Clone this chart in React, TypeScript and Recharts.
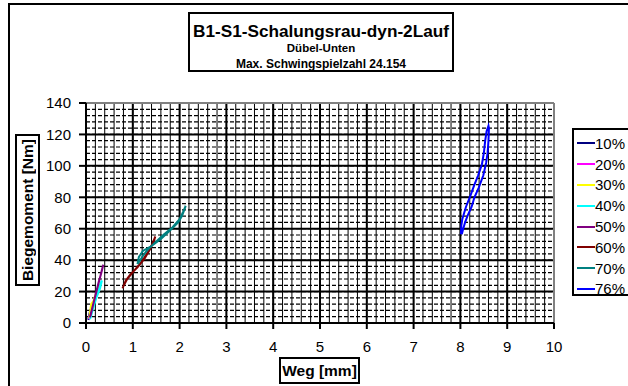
import { LineChart, Line, XAxis, YAxis, CartesianGrid, Legend, ReferenceLine } from "recharts";

type Pt = { x: number; y: number };

// Achsen
const xTicks = [0, 1, 2, 3, 4, 5, 6, 7, 8, 9, 10];
const yTicks = [0, 20, 40, 60, 80, 100, 120, 140];
const xMinor = Array.from({ length: 51 }, (_, i) => i * 0.2);
const yMinor = Array.from({ length: 36 }, (_, i) => i * 4);

const s10: Pt[] = [
  { x: 0.05, y: 2 }, { x: 0.08, y: 5 }, { x: 0.11, y: 9 }, { x: 0.09, y: 8 }, { x: 0.06, y: 4 }, { x: 0.05, y: 2 },
];
const s20: Pt[] = [
  { x: 0.06, y: 2.5 }, { x: 0.1, y: 7 }, { x: 0.14, y: 12 }, { x: 0.16, y: 14 }, { x: 0.13, y: 11 }, { x: 0.09, y: 6 }, { x: 0.06, y: 2.5 },
];
const s30: Pt[] = [
  { x: 0.07, y: 3 }, { x: 0.12, y: 10 }, { x: 0.19, y: 17 }, { x: 0.27, y: 22 }, { x: 0.31, y: 24.5 },
  { x: 0.29, y: 22 }, { x: 0.21, y: 16 }, { x: 0.11, y: 12 }, { x: 0.07, y: 3 },
];
const s40: Pt[] = [
  { x: 0.08, y: 2.5 }, { x: 0.1, y: 3.5 }, { x: 0.15, y: 9 }, { x: 0.22, y: 16 }, { x: 0.3, y: 22 }, { x: 0.34, y: 27 },
  { x: 0.32, y: 26 }, { x: 0.25, y: 19 }, { x: 0.17, y: 12 }, { x: 0.11, y: 6 }, { x: 0.09, y: 3 },
];
const s50: Pt[] = [
  { x: 0.08, y: 3.5 }, { x: 0.12, y: 8 }, { x: 0.17, y: 14 }, { x: 0.22, y: 20 }, { x: 0.27, y: 26 }, { x: 0.32, y: 31 },
  { x: 0.37, y: 37 }, { x: 0.35, y: 35 }, { x: 0.3, y: 29 }, { x: 0.24, y: 22 }, { x: 0.19, y: 16 }, { x: 0.14, y: 10 },
  { x: 0.1, y: 5 }, { x: 0.08, y: 3.5 },
];
const s60: Pt[] = [
  { x: 0.78, y: 22 }, { x: 0.85, y: 27 }, { x: 0.95, y: 31 }, { x: 1.1, y: 35.5 }, { x: 1.25, y: 41 }, { x: 1.38, y: 47.5 },
  { x: 1.48, y: 55 }, { x: 1.45, y: 52 }, { x: 1.32, y: 45 }, { x: 1.18, y: 38.5 }, { x: 1.02, y: 33 }, { x: 0.88, y: 28 },
  { x: 0.8, y: 23.5 },
];
const s70: Pt[] = [
  { x: 1.1, y: 37.5 }, { x: 1.13, y: 42 }, { x: 1.22, y: 46 }, { x: 1.4, y: 49 }, { x: 1.6, y: 53.5 }, { x: 1.8, y: 59 },
  { x: 1.97, y: 64 }, { x: 2.05, y: 68 }, { x: 2.1, y: 72 }, { x: 2.13, y: 74.5 }, { x: 2.08, y: 71 }, { x: 2.0, y: 66 },
  { x: 1.85, y: 61 }, { x: 1.65, y: 56 }, { x: 1.45, y: 50.5 }, { x: 1.3, y: 46 }, { x: 1.2, y: 42 }, { x: 1.14, y: 39 },
  { x: 1.1, y: 37.5 },
];
const s76: Pt[] = [
  { x: 8.01, y: 56.5 }, { x: 8.02, y: 62 }, { x: 8.04, y: 66 }, { x: 8.12, y: 74 }, { x: 8.2, y: 80 }, { x: 8.3, y: 88 },
  { x: 8.38, y: 94 }, { x: 8.46, y: 101 }, { x: 8.5, y: 108 }, { x: 8.53, y: 116 }, { x: 8.56, y: 122 }, { x: 8.6, y: 125.5 },
  { x: 8.61, y: 124 }, { x: 8.6, y: 116 }, { x: 8.58, y: 108 }, { x: 8.55, y: 102 }, { x: 8.49, y: 94 }, { x: 8.39, y: 86 },
  { x: 8.3, y: 80 }, { x: 8.24, y: 74 }, { x: 8.15, y: 68 }, { x: 8.1, y: 64 }, { x: 8.06, y: 60 }, { x: 8.03, y: 56.5 },
];

const series = [
  { name: "10%", color: "#000080", data: s10 },
  { name: "20%", color: "#FF00FF", data: s20 },
  { name: "30%", color: "#FFFF00", data: s30 },
  { name: "40%", color: "#00FFFF", data: s40 },
  { name: "50%", color: "#800080", data: s50 },
  { name: "60%", color: "#800000", data: s60 },
  { name: "70%", color: "#008080", data: s70 },
  { name: "76%", color: "#0000FF", data: s76 },
];

const font = "'Liberation Sans', Arial, sans-serif";

const scaleOf = (axis: any) => (v: number) => {
  const s = axis && axis.scale;
  if (typeof s === "function") return s(v);
  if (s && typeof s.map === "function") return s.map(v);
  return v;
};

const renderLegend = (props: any) => (
  <div
    style={{
      border: "2px solid #000",
      background: "#fff",
      boxSizing: "border-box",
      width: 80,
      height: 168,
      padding: "3px 0 0 3px",
      fontFamily: font,
      fontSize: 15,
    }}
  >
    {(props.payload || []).map((p: any) => (
      <div key={p.value} style={{ display: "flex", alignItems: "center", height: 20.8 }}>
        <span style={{ display: "inline-block", width: 18, height: 2, background: p.color }} />
        <span style={{ lineHeight: 1 }}>{p.value}</span>
      </div>
    ))}
  </div>
);

export default function App() {
  return (
    <div style={{ position: "absolute", left: 0, top: 0, width: 628, height: 386, overflow: "hidden", background: "#fff", fontFamily: font }}>
      <div style={{ position: "absolute", left: 8, top: 3, width: 700, height: 500, border: "2px solid #000" }} />
      <div style={{ position: "absolute", left: 0, top: 0 }}>
        <LineChart width={628} height={386} margin={{ top: 103, right: 74, bottom: 23, left: 26 }}>
          <CartesianGrid
            horizontal={false}
            verticalCoordinatesGenerator={({ xAxis }: any) => xMinor.map(scaleOf(xAxis))}
            stroke="#000"
            strokeWidth={1}
          />
          <CartesianGrid
            vertical={false}
            horizontalCoordinatesGenerator={({ yAxis }: any) => yMinor.map(scaleOf(yAxis))}
            stroke="#000"
            strokeDasharray="4 2"
            strokeWidth={1.2}
          />
          <CartesianGrid stroke="#000" strokeWidth={2} />
          <XAxis
            type="number"
            dataKey="x"
            domain={[0, 10]}
            ticks={xTicks}
            allowDuplicatedCategory={false}
            height={40}
            tickSize={6}
            tickMargin={12}
            axisLine={{ stroke: "#000", strokeWidth: 2 }}
            tickLine={{ stroke: "#000", strokeWidth: 2 }}
            tick={{ fill: "#000", fontSize: 15, fontFamily: font }}
          />
          <YAxis
            type="number"
            dataKey="y"
            domain={[0, 140]}
            ticks={yTicks}
            width={60}
            tickSize={7}
            tickMargin={8}
            axisLine={{ stroke: "#000", strokeWidth: 2 }}
            tickLine={{ stroke: "#000", strokeWidth: 2 }}
            tick={{ fill: "#000", fontSize: 15, fontFamily: font }}
          />
          <ReferenceLine y={140} stroke="#808080" strokeWidth={2} />
          <ReferenceLine x={10} stroke="#808080" strokeWidth={2} />
          {series.map((s) => (
            <Line
              key={s.name}
              name={s.name}
              data={s.data}
              dataKey="y"
              stroke={s.color}
              strokeWidth={2}
              dot={false}
              legendType="line"
              isAnimationActive={false}
            />
          ))}
          <Legend
            layout="horizontal"
            verticalAlign="middle"
            align="center"
            width={80}
            height={168}
            content={renderLegend}
            wrapperStyle={{ left: 572, top: 128 }}
          />
        </LineChart>
      </div>
      {/* Titel */}
      <div
        style={{
          position: "absolute",
          left: 188,
          top: 12,
          width: 266,
          height: 60,
          boxSizing: "border-box",
          border: "2px solid #000",
          background: "#fff",
          overflow: "hidden",
          fontWeight: "bold",
          textAlign: "center",
          whiteSpace: "nowrap",
        }}
      >
        <div style={{ fontSize: 17.2, lineHeight: "18px", marginTop: 8 }}>B1-S1-Schalungsrau-dyn-2Lauf</div>
        <div style={{ fontSize: 11.5, lineHeight: "16px" }}>Dübel-Unten</div>
        <div style={{ fontSize: 12, lineHeight: "16px" }}>Max. Schwingspielzahl 24.154</div>
      </div>
      {/* Y-Achsentitel */}
      <div
        style={{
          position: "absolute",
          left: 15,
          top: 134,
          width: 25,
          height: 152,
          boxSizing: "border-box",
          border: "2px solid #000",
          background: "#fff",
          display: "flex",
          alignItems: "center",
          justifyContent: "center",
        }}
      >
        <span style={{ writingMode: "vertical-rl", transform: "rotate(180deg)", fontSize: 15.5, fontWeight: "bold", whiteSpace: "nowrap" }}>
          Biegemoment [Nm]
        </span>
      </div>
      {/* X-Achsentitel */}
      <div
        style={{
          position: "absolute",
          left: 279,
          top: 357,
          width: 81,
          height: 27,
          boxSizing: "border-box",
          border: "2px solid #000",
          background: "#fff",
          fontSize: 15.5,
          fontWeight: "bold",
          textAlign: "center",
          lineHeight: "23px",
          whiteSpace: "nowrap",
        }}
      >
        Weg [mm]
      </div>
    </div>
  );
}
